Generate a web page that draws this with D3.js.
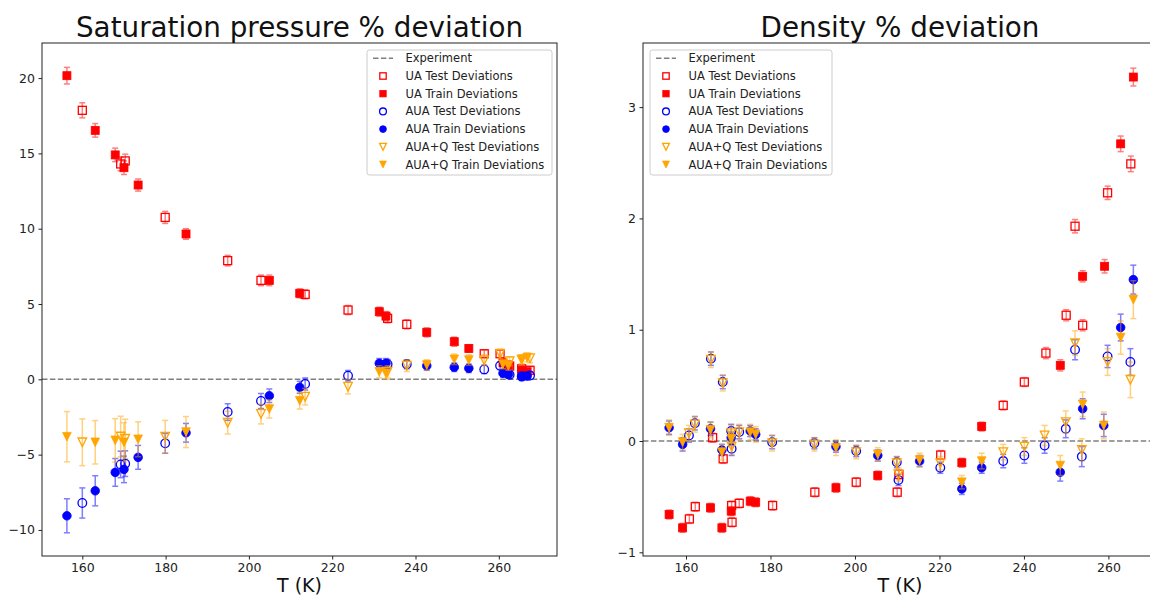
<!DOCTYPE html>
<html><head><meta charset="utf-8">
<script src="https://cdn.jsdelivr.net/npm/d3@7"></script>
<style>body{margin:0;background:#fff}svg{display:block}text{font-family:"DejaVu Sans",sans-serif}</style>
</head><body><svg id="c" width="1150" height="597"></svg>
<script>
// ---------- Data: Saturation pressure % deviation ----------
const psatTrainT = [156.3,163.1,167.9,170.0,173.4,184.9,204.9,212.2,231.3,232.9,242.7,249.3,252.8,261.0,262.3,265.5,266.8];
const psatTestT  = [160.0,169.2,170.3,179.9,194.9,202.9,213.5,223.8,233.3,237.9,256.5,260.3,262.6,265.5,267.5];
const psatUATrain = [20.16,16.53,14.9,14.05,12.9,9.65,6.57,5.71,4.49,4.2,3.12,2.5,2.05,1.1,0.95,0.6,0.5];
const psatUATrainErr = [0.55,0.45,0.45,0.45,0.4,0.35,0.35,0.3,0.3,0.3,0.3,0.3,0.25,0.25,0.25,0.25,0.25];
const psatUATest = [17.86,14.3,14.5,10.75,7.88,6.57,5.64,4.6,4.05,3.65,1.7,1.7,0.88,0.7,0.6];
const psatUATestErr = [0.5,0.45,0.45,0.4,0.35,0.35,0.3,0.3,0.3,0.3,0.25,0.25,0.25,0.25,0.25];
const psatAUATrain = [-9.06,-7.4,-6.18,-5.98,-5.18,-3.55,-1.09,-0.53,1.06,1.06,0.9,0.8,0.73,0.4,0.33,0.17,0.22];
const psatAUATrainErr = [1.13,1.0,0.92,0.88,0.79,0.62,0.45,0.4,0.32,0.32,0.3,0.28,0.28,0.25,0.25,0.25,0.25];
const psatAUATest = [-8.21,-5.65,-5.6,-4.25,-2.17,-1.44,-0.31,0.24,1.0,1.0,0.66,0.9,0.3,0.2,0.25];
const psatAUATestErr = [1.0,0.88,0.85,0.66,0.55,0.5,0.4,0.35,0.32,0.3,0.28,0.25,0.25,0.25,0.25];
const psatAQTrain = [-3.81,-4.18,-4.05,-4.18,-3.98,-3.5,-1.97,-1.42,0.5,0.4,0.95,1.33,1.28,1.0,0.9,1.33,1.45];
const psatAQTrainErr = [1.67,1.44,1.44,1.3,1.16,1.03,0.6,0.55,0.4,0.4,0.35,0.35,0.35,0.3,0.3,0.3,0.3];
const psatAQTest = [-4.18,-3.8,-3.95,-3.81,-2.88,-2.3,-1.15,-0.49,0.5,0.9,1.27,1.7,1.2,1.3,1.4];
const psatAQTestErr = [1.55,1.35,1.3,1.08,0.75,0.66,0.55,0.48,0.4,0.38,0.35,0.3,0.3,0.3,0.3];

// ---------- Data: Density % deviation ----------
const rhoUATrainT = [156.0,159.2,165.8,168.5,170.7,175.2,176.5,195.5,205.4,225.3,230.0,248.6,253.9,259.1,262.9,265.9];
const rhoUATrain = [-0.66,-0.78,-0.60,-0.78,-0.63,-0.54,-0.55,-0.42,-0.31,-0.195,0.13,0.68,1.48,1.57,2.67,3.27];
const rhoUATrainErr = [0.04,0.04,0.04,0.04,0.04,0.04,0.04,0.04,0.04,0.04,0.04,0.05,0.05,0.06,0.07,0.08];
const rhoUATestT = [160.8,162.2,166.3,168.8,170.8,170.9,172.6,180.5,190.5,200.3,210.0,210.4,220.3,235.1,240.1,245.2,250.0,252.1,253.9,259.8,265.3];
const rhoUATest = [-0.70,-0.59,0.03,-0.16,-0.58,-0.73,-0.56,-0.58,-0.46,-0.37,-0.46,-0.30,-0.126,0.32,0.53,0.79,1.13,1.93,1.04,2.23,2.49];
const rhoUATestErr = [0.04,0.04,0.04,0.04,0.04,0.04,0.04,0.04,0.04,0.04,0.04,0.04,0.04,0.04,0.04,0.05,0.05,0.06,0.05,0.06,0.07];
const rhoAUATrainT = [156.0,159.2,165.8,168.5,170.7,175.2,176.5,195.5,205.4,215.3,225.3,230.0,248.6,253.9,258.9,262.9,265.9];
const rhoAUATrain = [0.12,-0.03,0.11,-0.08,0.03,0.09,0.06,-0.05,-0.13,-0.18,-0.43,-0.24,-0.28,0.29,0.14,1.02,1.45];
const rhoAUATrainErr = [0.06,0.06,0.06,0.05,0.05,0.05,0.05,0.05,0.05,0.05,0.05,0.05,0.08,0.09,0.1,0.12,0.13];
const rhoAUATestT = [160.7,162.1,165.9,168.7,170.7,170.8,172.6,180.4,190.4,200.3,209.9,210.3,220.2,235.1,240.1,244.9,249.9,252.1,253.7,259.8,265.2];
const rhoAUATest = [0.05,0.16,0.74,0.53,0.09,-0.07,0.08,-0.01,-0.02,-0.09,-0.19,-0.35,-0.24,-0.18,-0.13,-0.04,0.11,0.82,-0.14,0.76,0.71];
const rhoAUATestErr = [0.06,0.06,0.06,0.06,0.06,0.06,0.06,0.06,0.05,0.05,0.05,0.05,0.05,0.06,0.07,0.07,0.08,0.09,0.09,0.1,0.12];
const rhoAQTrain = [0.12,-0.01,0.10,-0.10,0.02,0.08,0.06,-0.06,-0.12,-0.17,-0.37,-0.18,-0.22,0.33,0.14,0.93,1.27];
const rhoAQTrainErr = [0.07,0.07,0.07,0.07,0.07,0.07,0.07,0.07,0.06,0.06,0.06,0.07,0.09,0.11,0.12,0.15,0.17];
const rhoAQTest = [0.07,0.15,0.73,0.52,0.07,-0.05,0.08,-0.02,-0.03,-0.10,-0.20,-0.30,-0.20,-0.10,-0.05,0.05,0.17,0.88,-0.08,0.71,0.55];
const rhoAQTestErr = [0.07,0.07,0.07,0.07,0.07,0.07,0.07,0.07,0.06,0.06,0.06,0.06,0.06,0.07,0.08,0.09,0.1,0.11,0.1,0.12,0.16];

const xTicks = [160,180,200,220,240,260];
const psatYTicks = [-10,-5,0,5,10,15,20];
const rhoYTicks = [-1,0,1,2,3];
const legendLabels = ["Experiment","UA Test Deviations","UA Train Deviations","AUA Test Deviations","AUA Train Deviations","AUA+Q Test Deviations","AUA+Q Train Deviations"];

// ---------- Drawing ----------
const svg = d3.select("#c");
const RED="#ff0000", BLUE="#0000ff", ORANGE="#ffa500";

function marker(g, shape, color, filled, x, y, r) {
  let el;
  if (shape === "square") {
    el = g.append("rect").attr("x", x - r).attr("y", y - r).attr("width", 2*r).attr("height", 2*r);
  } else if (shape === "circle") {
    el = g.append("circle").attr("cx", x).attr("cy", y).attr("r", r);
  } else {
    el = g.append("path").attr("d", `M${x - r},${y - r}L${x + r},${y - r}L${x},${y + r}Z`);
  }
  if (filled) el.attr("fill", color).attr("stroke", color).attr("stroke-width", 0.8);
  else el.attr("fill", "none").attr("stroke", color).attr("stroke-width", 1.3);
  return el;
}

function panel(cfg) {
  const x = d3.scaleLinear().domain(cfg.xDomain).range([cfg.left, cfg.right]);
  const y = d3.scaleLinear().domain(cfg.yDomain).range([cfg.bottom, cfg.top]);
  const g = svg.append("g");
  const clipId = "clip" + cfg.id;
  svg.append("clipPath").attr("id", clipId).append("rect")
    .attr("x", cfg.left).attr("y", cfg.top).attr("width", cfg.right - cfg.left).attr("height", cfg.bottom - cfg.top);
  const plot = g.append("g").attr("clip-path", `url(#${clipId})`);

  plot.append("line").attr("x1", cfg.left).attr("x2", cfg.right).attr("y1", y(0)).attr("y2", y(0))
    .attr("stroke", "#000").attr("stroke-opacity", 0.5).attr("stroke-width", 1.5).attr("stroke-dasharray", "5.5,2.4");

  cfg.series.forEach(s => {
    const eg = plot.append("g").attr("opacity", 0.5);
    s.t.forEach((t, i) => {
      const px = x(t), y1 = y(s.v[i] - s.e[i]), y2 = y(s.v[i] + s.e[i]);
      eg.append("line").attr("x1", px).attr("x2", px).attr("y1", y1).attr("y2", y2).attr("stroke", s.color).attr("stroke-width", 1.5);
      [y1, y2].forEach(yy => eg.append("line").attr("x1", px - 3).attr("x2", px + 3).attr("y1", yy).attr("y2", yy).attr("stroke", s.color).attr("stroke-width", 1.5));
    });
    const mg = plot.append("g");
    s.t.forEach((t, i) => marker(mg, s.shape, s.color, s.filled, x(t), y(s.v[i]), s.r));
  });

  const xa = g.append("g").attr("transform", `translate(0,${cfg.bottom})`)
    .call(d3.axisBottom(x).tickValues(xTicks).tickSize(3.5).tickPadding(3.5).tickSizeOuter(0));
  const ya = g.append("g").attr("transform", `translate(${cfg.left},0)`)
    .call(d3.axisLeft(y).tickValues(cfg.yTicks).tickSize(3.5).tickPadding(3.5).tickSizeOuter(0).tickFormat(d => d < 0 ? "\u2212" + Math.abs(d) : d));
  [xa, ya].forEach(a => {
    a.select(".domain").remove();
    a.selectAll("text").attr("font-size", 12.5).attr("fill", "#222").attr("font-family", "DejaVu Sans");
    a.selectAll("line").attr("stroke", "#222");
  });
  g.append("rect").attr("x", cfg.left).attr("y", cfg.top).attr("width", cfg.right - cfg.left).attr("height", cfg.bottom - cfg.top)
    .attr("fill", "none").attr("stroke", "#222").attr("stroke-width", 1);

  const cx = (cfg.left + cfg.right) / 2;
  g.append("text").attr("x", cx).attr("y", 37).attr("text-anchor", "middle").attr("font-size", 27.8).attr("fill", "#111").text(cfg.title);
  g.append("text").attr("x", cx).attr("y", 592).attr("text-anchor", "middle").attr("font-size", 19).attr("fill", "#111").text("T (K)");

  const L = cfg.legend;
  const lg = g.append("g");
  lg.append("rect").attr("x", L.x).attr("y", L.y).attr("width", L.w).attr("height", L.h).attr("rx", 2.5)
    .attr("fill", "#fff").attr("fill-opacity", 0.8).attr("stroke", "#ccc").attr("stroke-width", 1);
  const rowY = i => L.y + 8.3 + i * 17.7;
  lg.append("line").attr("x1", L.x + 6).attr("x2", L.x + 26).attr("y1", rowY(0)).attr("y2", rowY(0))
    .attr("stroke", "#000").attr("stroke-opacity", 0.5).attr("stroke-width", 1.5).attr("stroke-dasharray", "5.5,2.4");
  cfg.series.forEach((s, i) => marker(lg, s.shape, s.color, s.filled, L.x + 16, rowY(i + 1), s.shape === "square" ? 3.2 : 3.4));
  legendLabels.forEach((lab, i) => lg.append("text").attr("x", L.x + 38.5).attr("y", rowY(i)).attr("dy", "0.35em")
    .attr("font-size", 11.5).attr("fill", "#222").text(lab));
}

panel({
  id: "L", title: "Saturation pressure % deviation",
  left: 42, right: 557, top: 43, bottom: 556,
  xDomain: [150.32, 273.97], yDomain: [-11.73, 22.33], yTicks: psatYTicks,
  legend: {x: 367, y: 50, w: 185, h: 125},
  series: [
    {t: psatTestT, v: psatUATest, e: psatUATestErr, color: RED, shape: "square", filled: false, r: 4},
    {t: psatTrainT, v: psatUATrain, e: psatUATrainErr, color: RED, shape: "square", filled: true, r: 4},
    {t: psatTestT, v: psatAUATest, e: psatAUATestErr, color: BLUE, shape: "circle", filled: false, r: 4.3},
    {t: psatTrainT, v: psatAUATrain, e: psatAUATrainErr, color: BLUE, shape: "circle", filled: true, r: 4.3},
    {t: psatTestT, v: psatAQTest, e: psatAQTestErr, color: ORANGE, shape: "tri", filled: false, r: 4.3},
    {t: psatTrainT, v: psatAQTrain, e: psatAQTrainErr, color: ORANGE, shape: "tri", filled: true, r: 4.3}
  ]
});

panel({
  id: "R", title: "Density % deviation",
  left: 643, right: 1157, top: 43, bottom: 556,
  xDomain: [149.82, 271.5], yDomain: [-1.033, 3.576], yTicks: rhoYTicks,
  legend: {x: 650, y: 50, w: 182, h: 125},
  series: [
    {t: rhoUATestT, v: rhoUATest, e: rhoUATestErr, color: RED, shape: "square", filled: false, r: 4},
    {t: rhoUATrainT, v: rhoUATrain, e: rhoUATrainErr, color: RED, shape: "square", filled: true, r: 4},
    {t: rhoAUATestT, v: rhoAUATest, e: rhoAUATestErr, color: BLUE, shape: "circle", filled: false, r: 4.3},
    {t: rhoAUATrainT, v: rhoAUATrain, e: rhoAUATrainErr, color: BLUE, shape: "circle", filled: true, r: 4.3},
    {t: rhoAUATestT, v: rhoAQTest, e: rhoAQTestErr, color: ORANGE, shape: "tri", filled: false, r: 4.3},
    {t: rhoAUATrainT, v: rhoAQTrain, e: rhoAQTrainErr, color: ORANGE, shape: "tri", filled: true, r: 4.3}
  ]
});
</script></body></html>
